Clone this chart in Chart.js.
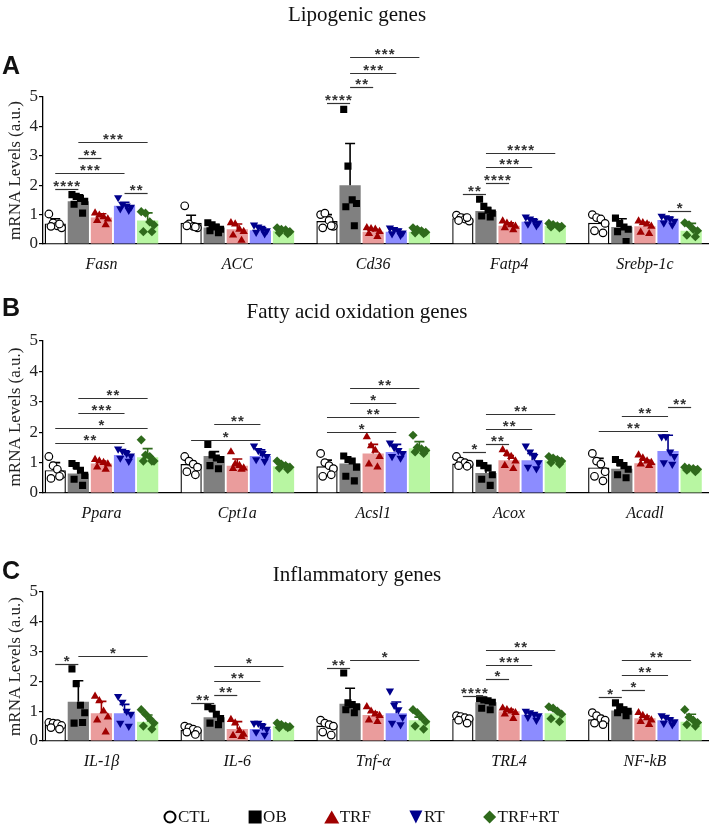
<!DOCTYPE html>
<html>
<head>
<meta charset="utf-8">
<title>mRNA levels</title>
<script src="https://cdn.jsdelivr.net/npm/chart.js@4.4.1/dist/chart.umd.min.js"></script>
<style>
  html, body { margin: 0; padding: 0; background: #fff; }
  body { width: 714px; height: 828px; position: relative; overflow: hidden; }
  .panel { position: absolute; left: 0; width: 714px; }
</style>
</head>
<body>
<div class="panel" style="top:0;height:290px"><canvas id="chartA"></canvas></div>
<div class="panel" style="top:290px;height:250px"><canvas id="chartB"></canvas></div>
<div class="panel" style="top:540px;height:288px"><canvas id="chartC"></canvas></div>
<script>
const groups = ['CTL', 'OB', 'TRF', 'RT', 'TRF+RT'];
const barColors = ['#ffffff', '#808080', '#ea9c9c', '#8c8cff', '#b8f6a2'];
const dotColors = ['#000000', '#000000', '#a00000', '#00008c', '#2f6a1c'];

// rows = groups (CTL, OB, TRF, RT, TRF+RT), columns = genes
const lipoGenes = ['Fasn', 'ACC', 'Cd36', 'Fatp4', 'Srebp-1c'];
const lipoMeans = [
  [0.70, 0.72, 0.78, 0.88, 0.72],
  [1.45, 0.56, 2.00, 1.12, 0.58],
  [0.90, 0.50, 0.42, 0.62, 0.60],
  [1.30, 0.47, 0.42, 0.76, 0.82],
  [0.80, 0.45, 0.42, 0.62, 0.45]
];
const lipoSD = [
  [0.16, 0.26, 0.22, 0.12, 0.20],
  [0.22, 0.10, 1.42, 0.12, 0.28],
  [0.13, 0.18, 0.08, 0.10, 0.14],
  [0.12, 0.12, 0.08, 0.10, 0.10],
  [0.26, 0.06, 0.06, 0.05, 0.25]
];
const lipoPoints = [
  [[1.02, 0.72, 0.62, 0.55, 0.60, 0.68], [1.30, 0.68, 0.60, 0.55, 0.62, 0.58], [1.00, 1.05, 0.80, 0.60, 0.55, 0.62], [0.98, 0.90, 0.85, 0.78, 0.80, 0.90], [1.00, 0.90, 0.85, 0.70, 0.45, 0.38]],
  [[1.68, 1.62, 1.55, 1.45, 1.35, 1.05], [0.72, 0.65, 0.58, 0.50, 0.45, 0.38], [4.58, 2.65, 1.50, 1.38, 1.27, 0.62], [1.52, 1.28, 1.15, 1.05, 0.95, 0.92], [0.88, 0.70, 0.58, 0.50, 0.42, 0.08]],
  [[1.05, 0.98, 0.92, 0.85, 0.80, 0.65], [0.72, 0.68, 0.50, 0.42, 0.30, 0.12], [0.55, 0.52, 0.50, 0.42, 0.35, 0.25], [0.78, 0.70, 0.65, 0.60, 0.55, 0.48], [0.78, 0.72, 0.68, 0.60, 0.40, 0.35]],
  [[1.58, 1.35, 1.30, 1.25, 1.20, 1.15], [0.65, 0.58, 0.50, 0.45, 0.40, 0.35], [0.55, 0.50, 0.45, 0.38, 0.35, 0.30], [0.92, 0.85, 0.78, 0.72, 0.68, 0.62], [0.95, 0.90, 0.85, 0.78, 0.72, 0.65]],
  [[1.10, 1.05, 0.75, 0.65, 0.42, 0.42], [0.55, 0.50, 0.48, 0.42, 0.38, 0.35], [0.55, 0.50, 0.45, 0.40, 0.38, 0.35], [0.70, 0.66, 0.62, 0.60, 0.58, 0.55], [0.72, 0.65, 0.50, 0.45, 0.30, 0.25]]
];
// [gene, group from, group to, level, stars]
const lipoSig = [
  [0, 0, 1, 1.87, '****'], [0, 0, 3, 2.40, '***'], [0, 1, 2, 2.93, '**'], [0, 1, 4, 3.47, '***'], [0, 3, 4, 1.72, '**'],
  [2, 0, 1, 4.80, '****'], [2, 1, 2, 5.34, '**'], [2, 1, 3, 5.83, '***'], [2, 1, 4, 6.36, '***'],
  [3, 0, 1, 1.70, '**'], [3, 1, 2, 2.08, '****'], [3, 1, 3, 2.61, '***'], [3, 1, 4, 3.11, '****'],
  [4, 3, 4, 1.12, '*']
];

const faoGenes = ['Ppara', 'Cpt1a', 'Acsl1', 'Acox', 'Acadl'];
const faoMeans = [
  [0.75, 0.95, 0.88, 0.97, 0.84],
  [0.64, 1.22, 0.97, 0.66, 0.80],
  [0.97, 0.90, 1.30, 1.08, 0.98],
  [1.25, 1.22, 1.35, 1.08, 1.38],
  [1.18, 0.88, 1.47, 1.08, 0.80]
];
const faoSD = [
  [0.25, 0.10, 0.20, 0.08, 0.30],
  [0.15, 0.14, 0.12, 0.18, 0.10],
  [0.08, 0.22, 0.30, 0.15, 0.10],
  [0.14, 0.20, 0.25, 0.22, 0.52],
  [0.28, 0.08, 0.22, 0.08, 0.05]
];
const faoPoints = [
  [[1.20, 0.90, 0.78, 0.60, 0.48, 0.55], [1.20, 1.05, 0.95, 0.85, 0.70, 0.60], [1.30, 1.00, 0.90, 0.80, 0.55, 0.60], [1.20, 1.05, 1.00, 0.95, 0.90, 0.88], [1.30, 1.05, 0.95, 0.70, 0.55, 0.40]],
  [[0.97, 0.90, 0.75, 0.58, 0.45, 0.25], [1.60, 1.25, 1.15, 1.10, 0.90, 0.80], [1.22, 1.10, 1.05, 0.85, 0.55, 0.40], [0.98, 0.90, 0.82, 0.60, 0.45, 0.25], [1.10, 1.00, 0.90, 0.78, 0.60, 0.50]],
  [[1.10, 1.05, 1.00, 0.95, 0.85, 0.78], [1.35, 0.95, 0.90, 0.82, 0.80, 0.78], [1.85, 1.55, 1.40, 1.20, 0.95, 0.85], [1.42, 1.30, 1.20, 1.05, 0.90, 0.80], [1.25, 1.15, 1.05, 1.00, 0.95, 0.90]],
  [[1.45, 1.38, 1.30, 1.22, 1.15, 1.05], [1.55, 1.40, 1.30, 1.20, 1.10, 1.05], [1.65, 1.50, 1.40, 1.30, 1.20, 1.15], [1.55, 1.35, 1.20, 1.00, 0.85, 0.80], [1.85, 1.85, 1.35, 1.20, 1.00, 0.95]],
  [[1.75, 1.25, 1.20, 1.05, 1.05, 1.05], [1.05, 0.95, 0.90, 0.85, 0.82, 0.78], [1.90, 1.50, 1.45, 1.40, 1.35, 1.30], [1.20, 1.15, 1.10, 1.05, 1.00, 0.95], [0.85, 0.82, 0.80, 0.78, 0.75, 0.70]]
];
const faoSig = [
  [0, 0, 3, 1.66, '**'], [0, 0, 4, 2.15, '*'], [0, 1, 3, 2.63, '***'], [0, 1, 4, 3.12, '**'],
  [1, 0, 3, 1.74, '*'], [1, 1, 3, 2.26, '**'],
  [2, 0, 3, 2.00, '*'], [2, 0, 4, 2.49, '**'], [2, 1, 3, 2.96, '*'], [2, 1, 4, 3.46, '**'],
  [3, 0, 1, 1.35, '*'], [3, 1, 2, 1.60, '**'], [3, 1, 3, 2.10, '**'], [3, 1, 4, 2.59, '**'],
  [4, 0, 3, 2.05, '**'], [4, 1, 3, 2.54, '**'], [4, 3, 4, 2.83, '**']
];

const inflGenes = ['IL-1β', 'IL-6', 'Tnf-α', 'TRL4', 'NF-kB'];
const inflMeans = [
  [0.55, 0.37, 0.52, 0.75, 0.73],
  [1.32, 0.80, 1.25, 1.30, 1.02],
  [0.93, 0.40, 0.87, 1.00, 0.76],
  [0.93, 0.40, 0.93, 0.88, 0.70],
  [0.65, 0.50, 0.70, 0.93, 0.65]
];
const inflSD = [
  [0.06, 0.10, 0.10, 0.06, 0.12],
  [0.70, 0.18, 0.52, 0.06, 0.10],
  [0.40, 0.25, 0.10, 0.06, 0.08],
  [0.30, 0.18, 0.38, 0.06, 0.08],
  [0.22, 0.04, 0.10, 0.10, 0.25]
];
const inflPoints = [
  [[0.62, 0.60, 0.58, 0.52, 0.45, 0.40], [0.50, 0.45, 0.40, 0.35, 0.30, 0.22], [0.70, 0.60, 0.55, 0.50, 0.30, 0.20], [0.85, 0.82, 0.78, 0.75, 0.70, 0.60], [0.95, 0.85, 0.75, 0.70, 0.60, 0.55]],
  [[2.42, 1.92, 1.20, 0.95, 0.60, 0.62], [1.15, 1.10, 0.90, 0.75, 0.60, 0.55], [2.28, 1.28, 1.22, 1.15, 1.05, 0.95], [1.42, 1.38, 1.35, 1.30, 1.10, 1.05], [1.28, 1.15, 1.05, 1.00, 0.95, 0.85]],
  [[1.50, 1.35, 1.00, 0.80, 0.70, 0.30], [0.72, 0.60, 0.35, 0.22, 0.18, 0.15], [1.15, 1.00, 0.90, 0.85, 0.70, 0.65], [1.10, 1.05, 1.00, 0.95, 0.90, 0.75], [0.95, 0.85, 0.78, 0.70, 0.65, 0.55]],
  [[1.50, 1.30, 1.00, 0.90, 0.60, 0.50], [0.60, 0.60, 0.50, 0.40, 0.30, 0.20], [1.68, 1.20, 1.05, 0.80, 0.60, 0.55], [1.00, 0.95, 0.90, 0.85, 0.80, 0.70], [0.85, 0.80, 0.72, 0.65, 0.60, 0.55]],
  [[1.05, 0.90, 0.75, 0.60, 0.50, 0.40], [0.60, 0.55, 0.50, 0.48, 0.45, 0.45], [1.05, 0.95, 0.80, 0.65, 0.50, 0.40], [1.15, 1.10, 1.00, 0.90, 0.75, 0.65], [1.05, 0.80, 0.70, 0.62, 0.55, 0.50]]
];
const inflSig = [
  [0, 0, 1, 2.59, '*'], [0, 1, 4, 2.84, '*'],
  [1, 0, 1, 1.29, '**'], [1, 1, 2, 1.54, '**'], [1, 1, 3, 2.03, '**'], [1, 1, 4, 2.52, '*'],
  [2, 0, 1, 2.44, '**'], [2, 1, 4, 2.72, '*'],
  [3, 0, 1, 1.52, '****'], [3, 1, 2, 2.07, '*'], [3, 1, 3, 2.56, '***'], [3, 1, 4, 3.06, '**'],
  [4, 0, 1, 1.46, '*'], [4, 1, 2, 1.72, '*'], [4, 1, 3, 2.22, '**'], [4, 1, 4, 2.72, '**']
];

const serif = '"Liberation Serif", "Times New Roman", serif';
const sans = '"Liberation Sans", Arial, sans-serif';
const groupWidth = 0.85;   // categoryPercentage
const barWidth = 0.92;     // barPercentage
const jitter = [-0.6, -0.2, 0.2, 0.6, -0.4, 0.4];
const pointShapes = [
  { pointStyle: 'circle', radius: 3.8, bg: '#ffffff', rotation: 0 },
  { pointStyle: 'rect', radius: 5, bg: '#000000', rotation: 0 },
  { pointStyle: 'triangle', radius: 4.8, bg: dotColors[2], rotation: 0 },
  { pointStyle: 'triangle', radius: 4.8, bg: dotColors[3], rotation: 180 },
  { pointStyle: 'rectRot', radius: 4.6, bg: dotColors[4], rotation: 0 }
];

function drawMarker(ctx, g, x, y, size) {
  ctx.save();
  ctx.fillStyle = dotColors[g];
  ctx.strokeStyle = '#000';
  ctx.lineWidth = 2;
  const h = size / 2;
  ctx.beginPath();
  if (g === 0) {
    ctx.arc(x, y, h - 1, 0, Math.PI * 2);
    ctx.stroke();
  } else if (g === 1) {
    ctx.fillRect(x - h, y - h, size, size);
  } else if (g === 2) {
    ctx.moveTo(x, y - h); ctx.lineTo(x + h + 1, y + h); ctx.lineTo(x - h - 1, y + h); ctx.closePath(); ctx.fill();
  } else if (g === 3) {
    ctx.moveTo(x, y + h); ctx.lineTo(x + h, y - h); ctx.lineTo(x - h, y - h); ctx.closePath(); ctx.fill();
  } else {
    ctx.moveTo(x, y - h); ctx.lineTo(x + h, y); ctx.lineTo(x, y + h); ctx.lineTo(x - h, y); ctx.closePath(); ctx.fill();
  }
  ctx.restore();
}

const decorPlugin = {
  id: 'decor',
  afterDatasetDraw(chart, args) {
    if (args.meta.type !== 'bar') return;
    const cfg = chart.options.plugins.decor;
    const g = args.index;
    const yScale = chart.scales.y;
    const ctx = chart.ctx;
    ctx.save();
    ctx.strokeStyle = dotColors[g];
    ctx.lineWidth = 1.6;
    args.meta.data.forEach((bar, i) => {
      const top = yScale.getPixelForValue(cfg.means[g][i] + cfg.sd[g][i]);
      ctx.beginPath();
      ctx.moveTo(bar.x, bar.y);
      ctx.lineTo(bar.x, top);
      ctx.moveTo(bar.x - 5, top);
      ctx.lineTo(bar.x + 5, top);
      ctx.stroke();
    });
    ctx.restore();
  },
  afterDraw(chart) {
    const cfg = chart.options.plugins.decor;
    const ctx = chart.ctx;
    const yScale = chart.scales.y;
    ctx.save();
    // significance brackets
    ctx.strokeStyle = '#333';
    ctx.fillStyle = '#333';
    ctx.lineWidth = 1.2;
    ctx.font = 'bold 15px ' + sans;
    ctx.textAlign = 'center';
    ctx.textBaseline = 'alphabetic';
    cfg.sig.forEach(([gene, a, b, level, stars]) => {
      const xa = chart.getDatasetMeta(a).data[gene].x;
      const xb = chart.getDatasetMeta(b).data[gene].x;
      const y = Math.round(yScale.getPixelForValue(level)) + 0.5;
      ctx.beginPath();
      ctx.moveTo(xa, y);
      ctx.lineTo(xb, y);
      ctx.stroke();
      const n = stars.length;
      const cx = (xa + xb) / 2;
      for (let k = 0; k < n; k++) {
        ctx.fillText('*', cx + (k - (n - 1) / 2) * 7, y + 1);
      }
    });
    // panel title and letter
    ctx.fillStyle = '#111';
    ctx.font = '21px ' + serif;
    ctx.textAlign = 'center';
    ctx.textBaseline = 'middle';
    ctx.fillText(cfg.title, 357, cfg.titleY);
    ctx.font = 'bold 25px ' + sans;
    ctx.textAlign = 'left';
    ctx.fillText(cfg.letter, 2, cfg.letterY);
    // legend
    if (cfg.legendY) {
      ctx.font = '17px ' + serif;
      ctx.textBaseline = 'middle';
      let x = 163;
      groups.forEach((name, g) => {
        drawMarker(ctx, g, x + 7, cfg.legendY, 13);
        ctx.fillStyle = '#111';
        ctx.fillText(name, x + 15, cfg.legendY + 1);
        x += 15 + ctx.measureText(name).width + 38;
      });
    }
    ctx.restore();
  }
};

function makePanel(id, genes, means, sd, points, sig, opts) {
  const datasets = [];
  groups.forEach((name, g) => {
    datasets.push({
      type: 'bar',
      label: name,
      data: means[g].map((v, i) => ({ x: i, y: v })),
      backgroundColor: barColors[g],
      borderColor: '#000',
      borderWidth: g === 0 ? 1.4 : 0,
      categoryPercentage: groupWidth,
      barPercentage: barWidth,
      order: 2
    });
  });
  groups.forEach((name, g) => {
    const slot = groupWidth / groups.length;
    const pts = [];
    points[g].forEach((vals, i) => {
      vals.forEach((v, k) => {
        pts.push({ x: i + (g - 2) * slot + jitter[k] * slot * barWidth / 2, y: v });
      });
    });
    const s = pointShapes[g];
    datasets.push({
      type: 'scatter',
      label: name + ' points',
      data: pts,
      pointStyle: s.pointStyle,
      pointRadius: s.radius,
      pointRotation: s.rotation,
      pointBackgroundColor: s.bg,
      pointBorderColor: g === 0 ? '#000' : s.bg,
      pointBorderWidth: g === 0 ? 1.2 : 0,
      order: 1
    });
  });

  return new Chart(document.getElementById(id), {
    type: 'bar',
    data: { datasets },
    options: {
      responsive: true,
      maintainAspectRatio: false,
      animation: false,
      layout: { padding: { top: opts.padTop, left: 0, right: 0, bottom: 0 } },
      plugins: {
        legend: { display: false },
        tooltip: { enabled: false },
        decor: { means, sd, sig, title: opts.title, titleY: opts.titleY, letter: opts.letter, letterY: opts.letterY, legendY: opts.legendY }
      },
      scales: {
        x: {
          type: 'linear',
          min: -0.43,
          max: 4.47,
          offset: false,
          afterFit: s => { s.height = opts.xHeight; },
          afterBuildTicks: s => { s.ticks = genes.map((_, i) => ({ value: i })); },
          grid: { display: false, drawTicks: false },
          border: { display: true, color: '#000', width: 1.3 },
          ticks: {
            autoSkip: false,
            maxRotation: 0,
            padding: 11,
            color: '#111',
            font: { family: serif, size: 16, style: 'italic' },
            callback: v => genes[v]
          }
        },
        y: {
          min: 0,
          max: 5,
          afterFit: s => { s.width = 43; },
          grid: { display: true, drawOnChartArea: false, drawTicks: true, tickLength: 4, color: '#000', lineWidth: 1.2 },
          border: { display: true, color: '#000', width: 1.3 },
          ticks: { stepSize: 1, padding: 1, color: '#222', font: { family: serif, size: 17 } },
          title: { display: true, text: 'mRNA Levels (a.u.)', color: '#222', padding: { top: 5, bottom: 0 }, font: { family: serif, size: 17 } }
        }
      }
    },
    plugins: [decorPlugin]
  });
}

makePanel('chartA', lipoGenes, lipoMeans, lipoSD, lipoPoints, lipoSig,
  { padTop: 97, xHeight: 46, title: 'Lipogenic genes', titleY: 15, letter: 'A', letterY: 67 });
makePanel('chartB', faoGenes, faoMeans, faoSD, faoPoints, faoSig,
  { padTop: 51, xHeight: 47, title: 'Fatty acid oxidation genes', titleY: 22, letter: 'B', letterY: 19 });
makePanel('chartC', inflGenes, inflMeans, inflSD, inflPoints, inflSig,
  { padTop: 52, xHeight: 87, title: 'Inflammatory genes', titleY: 35, letter: 'C', letterY: 32, legendY: 277 });
</script>
</body>
</html>
